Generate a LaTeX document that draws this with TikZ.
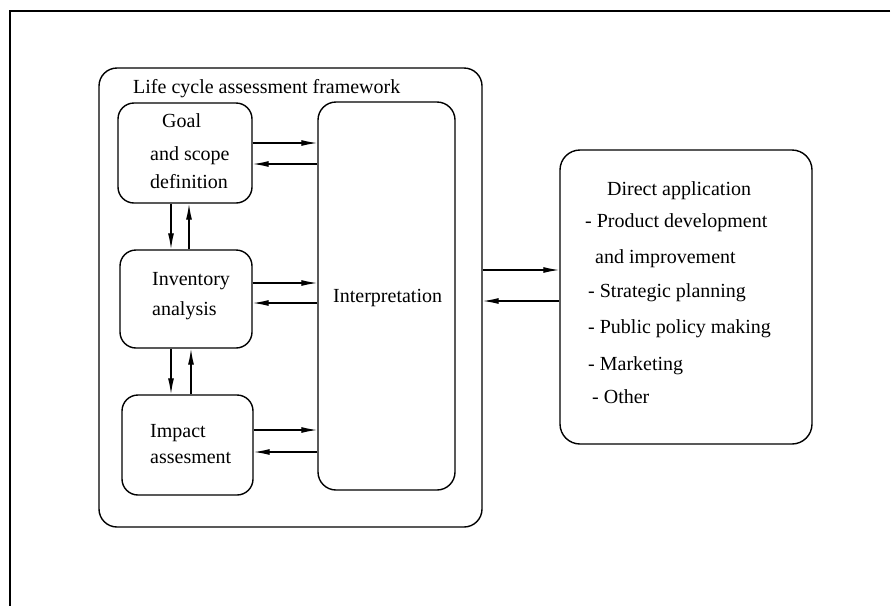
\documentclass[tikz,border=0pt]{standalone}
\usepackage{fontspec}
\setmainfont{Liberation Serif}
\usetikzlibrary{arrows.meta}
\begin{document}
\begin{tikzpicture}[x=1pt,y=-1pt,
  stage/.style={draw, line width=1.4pt, rounded corners=16pt, inner sep=0pt},
  txt/.style={anchor=base west, inner sep=0pt, font=\fontsize{20}{24}\selectfont},
  flow/.style={line width=1.3pt, -{Latex[length=16pt,width=6pt]}},
]
\useasboundingbox (0,0) rectangle (891,606);

% page rules along the top and the left
\draw[line width=1.4pt] (890,11) -- (10,11) -- (10,606);

% boxes
\node[stage, rounded corners=18pt, minimum width=383pt, minimum height=459pt] (frame) at (290.5,297.5) {};
\node[stage, minimum width=134pt, minimum height=100pt] (goal) at (185,153) {};
\node[stage, minimum width=132pt, minimum height=98pt] (inv) at (186,299) {};
\node[stage, minimum width=131pt, minimum height=100pt] (imp) at (187.5,445) {};
\node[stage, rounded corners=18pt, minimum width=137pt, minimum height=388pt] (interp) at (386.5,296) {};
\node[stage, rounded corners=20pt, minimum width=252pt, minimum height=294pt] (direct) at (686,297) {};

% labels
\node[txt] (title) at (133,93) {Life cycle assessment framework};
\node[txt] (g1) at (162,127) {Goal};
\node[txt] (g2) at (150,160) {and scope};
\node[txt] (g3) at (150,188) {definition};
\node[txt] (i1) at (152,285) {Inventory};
\node[txt] (i2) at (152,315) {analysis};
\node[txt] (m1) at (150,437) {Impact};
\node[txt] (m2) at (150,463) {assesment};
\node[txt] (it) at (333,302) {Interpretation};
\node[txt] (d0) at (607,195) {Direct application};
\node[txt] (d1) at (585,227) {- Product development};
\node[txt] (d2) at (595,263) {and improvement};
\node[txt] (d3) at (588,297) {- Strategic planning};
\node[txt] (d4) at (588,333) {- Public policy making};
\node[txt] (d5) at (588,370) {- Marketing};
\node[txt] (d6) at (592,403) {- Other};

% stage <-> interpretation
\draw[flow] (goal.east |- 0,143) -- (interp.west |- 0,143);
\draw[flow] (interp.west |- 0,164) -- (goal.east |- 0,164);
\draw[flow] (inv.east |- 0,283) -- (interp.west |- 0,283);
\draw[flow] (interp.west |- 0,303) -- (inv.east |- 0,303);
\draw[flow] (imp.east |- 0,430) -- (interp.west |- 0,430);
\draw[flow] (interp.west |- 0,452) -- (imp.east |- 0,452);

% stage <-> stage
\draw[flow] (171,0 |- goal.south) -- (171,0 |- inv.north);
\draw[flow] (189,0 |- inv.north) -- (189,0 |- goal.south);
\draw[flow] (171,0 |- inv.south) -- (171,0 |- imp.north);
\draw[flow] (191,0 |- imp.north) -- (191,0 |- inv.south);

% framework <-> direct application
\draw[flow] (frame.east |- 0,270) -- (direct.west |- 0,270);
\draw[flow] (direct.west |- 0,301) -- (frame.east |- 0,301);
\end{tikzpicture}
\end{document}
